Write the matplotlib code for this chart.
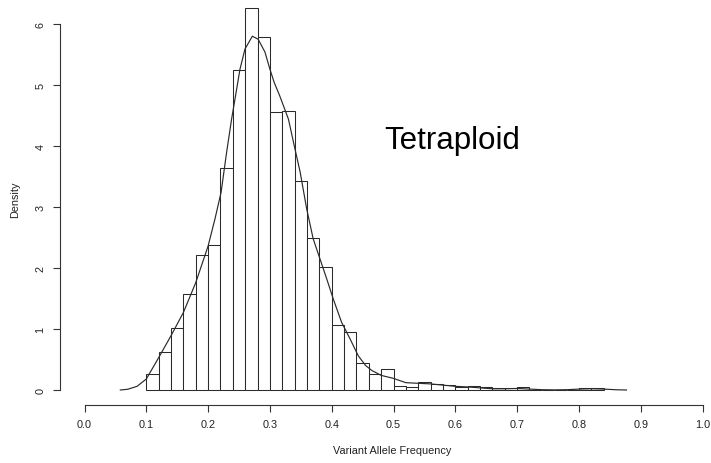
import matplotlib
matplotlib.use("Agg")
import matplotlib.pyplot as plt
import numpy as np

plt.rcParams['font.family'] = ['Liberation Sans', 'DejaVu Sans']

# Histogram (density scale), bins of width 0.02 starting at 0.10
bin_starts = [0.10, 0.12, 0.14, 0.16, 0.18, 0.20, 0.22, 0.24, 0.26, 0.28,
              0.30, 0.32, 0.34, 0.36, 0.38, 0.40, 0.42, 0.44, 0.46, 0.48,
              0.50, 0.52, 0.54, 0.56, 0.58, 0.60, 0.62, 0.64, 0.66, 0.68,
              0.70, 0.72, 0.74, 0.76, 0.78, 0.80, 0.82]
bin_width = 0.02
densities = [0.257, 0.628, 1.016, 1.568, 2.219, 2.377, 3.634, 5.24, 6.257, 5.78,
             4.55, 4.58, 3.43, 2.486, 2.016, 1.07, 0.945, 0.448, 0.257, 0.339,
             0.071, 0.049, 0.126, 0.104, 0.087, 0.044, 0.066, 0.049, 0.027, 0.027,
             0.049, 0.0, 0.0, 0.0, 0.0, 0.027, 0.027]

# Kernel density curve
kde_x = [0.058, 0.07, 0.085, 0.10, 0.12, 0.14, 0.16, 0.18, 0.20, 0.211, 0.221,
         0.230, 0.238, 0.2435, 0.2516, 0.2597, 0.2716, 0.281, 0.292, 0.300,
         0.307, 0.316, 0.330, 0.3395, 0.349, 0.3595, 0.370, 0.381, 0.392,
         0.4026, 0.416, 0.4296, 0.443, 0.455, 0.465, 0.48, 0.50, 0.52, 0.54,
         0.56, 0.58, 0.60, 0.62, 0.64, 0.66, 0.68, 0.70, 0.72, 0.74, 0.76,
         0.78, 0.80, 0.82, 0.84, 0.86, 0.877]
kde_y = [0.0, 0.012, 0.06, 0.18, 0.53, 0.89, 1.27, 1.76, 2.36, 2.80, 3.24,
         3.90, 4.44, 4.77, 5.26, 5.59, 5.80, 5.75, 5.54, 5.26,
         5.04, 4.82, 4.44, 4.00, 3.57, 2.97, 2.48, 2.15, 1.82,
         1.49, 1.11, 0.84, 0.56, 0.40, 0.32, 0.24, 0.19, 0.12, 0.11,
         0.10, 0.08, 0.06, 0.05, 0.035, 0.02, 0.02, 0.025, 0.015, 0.005, 0.002,
         0.005, 0.015, 0.02, 0.015, 0.004, 0.0]

x_ticks = [0.0, 0.1, 0.2, 0.3, 0.4, 0.5, 0.6, 0.7, 0.8, 0.9, 1.0]
x_ticklabels = ["0.0", "0.1", "0.2", "0.3", "0.4", "0.5", "0.6", "0.7", "0.8", "0.9", "1.0"]
y_ticks = [0, 1, 2, 3, 4, 5, 6]

W, H = 711, 464
fig = plt.figure(figsize=(W / 100, H / 100), dpi=100)

# pixel mapping: x 0 -> 84.5 px, 1 -> 702.5 px ; y 0 -> 391 px, 61 px per unit
x0, x1 = 84.5, 702.5
y0 = 391
ppu = 61.0
ytop = 6.36
ax = fig.add_axes([x0 / W, (H - y0) / H, (x1 - x0) / W, ytop * ppu / H])
ax.set_xlim(0, 1)
ax.set_ylim(0, ytop)

ax.bar(bin_starts, densities, width=bin_width, align='edge',
       facecolor='white', edgecolor='#2a2a2a', linewidth=0.75, clip_on=False)
ax.plot(kde_x, kde_y, color='#2a2a2a', linewidth=0.85, clip_on=False)

ax.text(0.5955, 3.967, "Tetraploid", fontsize=22.5, ha='center', va='baseline',
        color='black')

for s in ['top', 'right']:
    ax.spines[s].set_visible(False)
ax.spines['left'].set_position(('outward', 25 * 0.72))
ax.spines['bottom'].set_position(('outward', 15 * 0.72))
ax.spines['left'].set_bounds(0, 6)
ax.spines['bottom'].set_bounds(0, 1)
for s in ['left', 'bottom']:
    ax.spines[s].set_linewidth(0.8)
    ax.spines[s].set_color('#333333')

ax.set_xticks(x_ticks)
ax.set_xticklabels(x_ticklabels)
ax.set_yticks(y_ticks)
ax.set_yticklabels([str(v) for v in y_ticks], rotation=90, va='center')
ax.tick_params(axis='both', length=5, width=0.8, color='#333333',
               labelsize=7.8, labelcolor='#222222')
ax.tick_params(axis='x', pad=5)
ax.tick_params(axis='y', pad=5)

fig.text(392 / W, 1 - 451 / H, "Variant Allele Frequency", ha='center', va='center',
         fontsize=7.8, color='#222222')
fig.text(15 / W, 1 - 200 / H, "Density", ha='center', va='center', rotation=90,
         fontsize=7.8, color='#222222')

fig.savefig("out.png", dpi=100)
